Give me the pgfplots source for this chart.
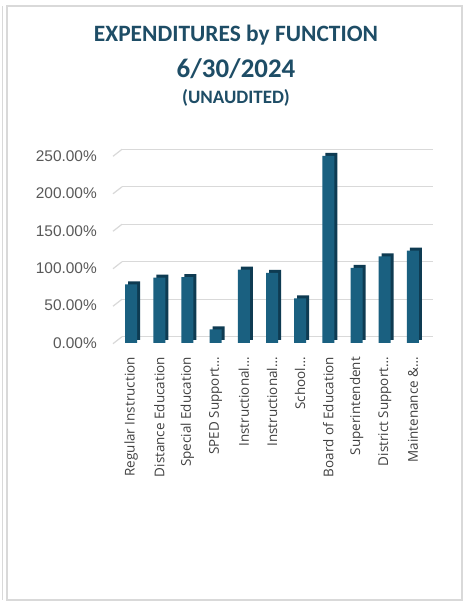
\documentclass[border=0pt]{standalone}
\usepackage{pgfplots}
\pgfplotsset{compat=1.18}
\usepackage{fontspec}
\setmainfont{Carlito}
\newfontfamily\osans{Open Sans}
\newfontfamily\lsans{Liberation Sans}

\definecolor{titleblue}{HTML}{1E4D66}
\definecolor{barfront}{HTML}{1A6080}
\definecolor{barside}{HTML}{0E3B52}
\definecolor{gridgray}{HTML}{D9D9D9}
\definecolor{ticktext}{HTML}{595959}
\definecolor{cattext}{HTML}{404040}

% expenditures by function, percent of budget
\pgfplotstableread{
x val
0  78.5
1  87.3
2  88.2
3  18.3
4  98
5  93.6
6  59.8
7  250
8  100.3
9  115.9
10 123.4
}\spend

\begin{document}
\begin{tikzpicture}
\path[use as bounding box, fill=white] (0,0) rectangle (466bp,604bp);
\draw[gridgray, line width=1.2bp] (7bp,4bp) rectangle (462bp,598bp);
\draw[gridgray, line width=1bp] (2bp,4bp) -- (2bp,598bp);

% titles
\node[text=titleblue, font=\bfseries\fontsize{23.5}{28}\selectfont] at (236bp,569bp) {EXPENDITURES by FUNCTION};
\node[text=titleblue, font=\bfseries\fontsize{27}{32}\selectfont] at (236bp,535bp) {6/30/2024};
\node[text=titleblue, font=\bfseries\fontsize{19}{23}\selectfont] at (236bp,506bp) {(UNAUDITED)};

% back wall with gridlines
\begin{axis}[
    at={(122bp,267.3bp)}, anchor=south west,
    scale only axis, width=311bp, height=187.4bp,
    xmin=-0.5, xmax=10.5, ymin=0, ymax=250,
    axis line style={draw=none},
    major tick length=0pt,
    ytick={0,50,...,250}, xtick=\empty,
    yticklabels={},
    ymajorgrids,
    grid style={gridgray, line width=1.2bp},
    clip=false,
]
\addplot[draw=none] coordinates {(0,0)};
\pgfplotsinvokeforeach{0,50,100,150,200,250}{
  \draw[gridgray, line width=1.2bp] (axis cs:-0.5,#1) -- ++(-9bp,-7bp);
}
\end{axis}

% front: bars and labels
\begin{axis}[
    at={(117bp,261bp)}, anchor=south west,
    scale only axis, width=310bp, height=187bp,
    xmin=-0.5, xmax=10.5, ymin=0, ymax=250,
    axis line style={draw=none},
    major tick length=0pt,
    ytick={0,50,...,250},
    yticklabel={\pgfmathprintnumber[fixed,fixed zerofill,precision=2,assume math mode=true]{\tick}\%},
    yticklabel style={anchor=east, inner sep=0pt, xshift=-20bp, text=ticktext, font=\lsans\fontsize{15.5}{18}\selectfont},
    xtick=data,
    xticklabels={Regular Instruction, Distance Education, Special Education, SPED Support…, Instructional…, Instructional…, School…, Board of Education, Superintendent, District Support…, Maintenance \&…},
    xticklabel style={rotate=90, anchor=east, inner sep=0pt, text=cattext, font=\osans\fontsize{13.5}{16}\selectfont},
    xticklabel shift=14bp,
    ybar, bar width=12bp,
    clip=false,
]
\addplot[fill=barside, draw=none, bar shift=0pt, xshift=3bp, yshift=3bp] table[x=x, y=val] {\spend};
\addplot[fill=barfront, draw=none, bar shift=0pt] table[x=x, y=val] {\spend};
\end{axis}
\end{tikzpicture}
\end{document}
